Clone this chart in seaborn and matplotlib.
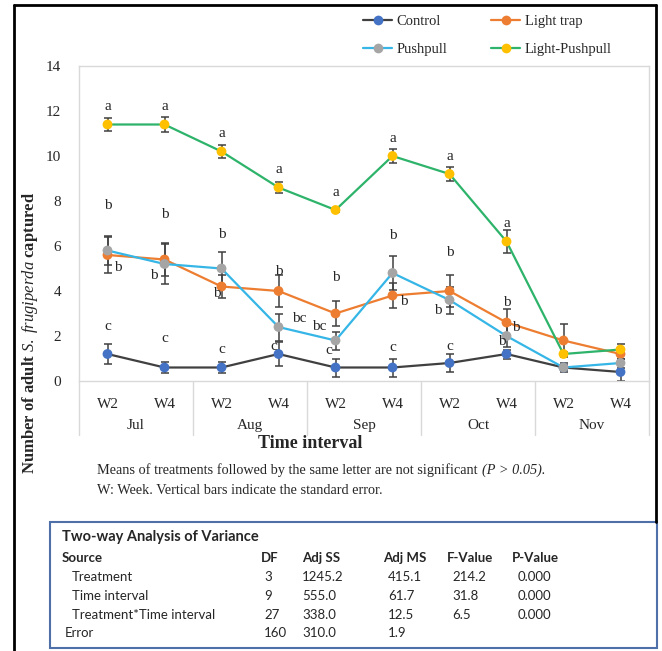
import numpy as np
import pandas as pd
import seaborn as sns
import matplotlib.pyplot as plt
import matplotlib.transforms as mtransforms
from matplotlib.lines import Line2D
from matplotlib.patches import Rectangle

# data
weeks = ['W2', 'W4'] * 5
months = ['Jul', 'Aug', 'Sep', 'Oct', 'Nov']
treatments = ['Control', 'Light trap', 'Pushpull', 'Light-Pushpull']

control = [1.2, 0.6, 0.6, 1.2, 0.6, 0.6, 0.8, 1.2, 0.6, 0.4]
control_se = [0.45, 0.25, 0.25, 0.55, 0.4, 0.4, 0.4, 0.2, 0.1, 0.4]
light_trap = [5.6, 5.4, 4.2, 4.0, 3.0, 3.8, 4.0, 2.6, 1.8, 1.2]
light_trap_se = [0.8, 0.75, 0.5, 0.7, 0.55, 0.55, 0.7, 0.6, 0.75, 0.2]
pushpull = [5.8, 5.2, 5.0, 2.4, 1.8, 4.8, 3.6, 2.0, 0.6, 0.8]
pushpull_se = [0.65, 0.9, 0.75, 0.6, 0.4, 0.75, 0.6, 0.5, 0.2, 0.2]
light_pushpull = [11.4, 11.4, 10.2, 8.6, 7.6, 10.0, 9.2, 6.2, 1.2, 1.4]
light_pushpull_se = [0.3, 0.35, 0.3, 0.25, 0.1, 0.3, 0.3, 0.5, 0.1, 0.25]

# significance letters (x index, y, letter)
sig_letters = [
    (0, 12.2, 'a'), (1, 12.2, 'a'), (2, 11.0, 'a'), (3, 9.4, 'a'),
    (4, 8.4, 'a'), (5, 10.8, 'a'), (6, 10.0, 'a'), (7, 7.0, 'a'),
    (0, 7.8, 'b'), (1, 7.4, 'b'), (2, 6.5, 'b'), (3, 4.85, 'b'),
    (4, 4.6, 'b'), (5, 6.45, 'b'), (6, 5.73, 'b'), (7, 3.48, 'b'),
    (0.18, 5.04, 'b'), (0.82, 4.7, 'b'), (1.92, 3.9, 'b'), (3.37, 2.8, 'bc'),
    (3.72, 2.4, 'bc'), (5.19, 3.54, 'b'), (5.8, 3.14, 'b'), (7.16, 2.37, 'b'),
    (6.91, 1.75, 'b'),
    (0, 2.4, 'c'), (1, 1.9, 'c'), (2, 1.4, 'c'), (2.91, 1.55, 'c'),
    (3.88, 1.35, 'c'), (5, 1.5, 'c'), (6, 1.55, 'c'),
]

anova_source = ['Treatment', 'Time interval', 'Treatment*Time interval', 'Error']
anova_df = ['3', '9', '27', '160']
anova_ss = ['1245.2', '555.0', '338.0', '310.0']
anova_ms = ['415.1', '61.7', '12.5', '1.9']
anova_f = ['214.2', '31.8', '6.5', '']
anova_p = ['0.000', '0.000', '0.000', '']

sns.set_style('white')
plt.rcParams['font.family'] = ['Liberation Serif', 'DejaVu Serif']
plt.rcParams['mathtext.fontset'] = 'custom'
plt.rcParams['mathtext.rm'] = 'Liberation Serif'
plt.rcParams['mathtext.it'] = 'Liberation Serif:italic'
plt.rcParams['mathtext.bf'] = 'Liberation Serif:bold'

df = pd.DataFrame({
    'idx': list(range(10)) * 4,
    'treatment': np.repeat(treatments, 10),
    'mean': control + light_trap + pushpull + light_pushpull,
    'se': control_se + light_trap_se + pushpull_se + light_pushpull_se,
})

line_colors = {'Control': '#404040', 'Light trap': '#ED7D31',
               'Pushpull': '#35B6E6', 'Light-Pushpull': '#2DB36A'}
marker_colors = {'Control': '#4472C4', 'Light trap': '#ED7D31',
                 'Pushpull': '#A5A5A5', 'Light-Pushpull': '#FFC000'}

W, H = 662, 651


def px(x):
    return x / W


def py(y):
    return 1 - y / H


fig = plt.figure(figsize=(W / 100, H / 100), dpi=100)
ax = fig.add_axes([px(79), py(381), (649 - 79) / W, (381 - 66) / H])

# error bars
for t in treatments:
    d = df[df['treatment'] == t]
    ax.errorbar(d['idx'], d['mean'], yerr=d['se'], fmt='none', ecolor='#404040',
                elinewidth=1.1, capsize=3, capthick=1.1, zorder=2)

sns.lineplot(data=df, x='idx', y='mean', hue='treatment', hue_order=treatments,
             palette=line_colors, lw=1.6, legend=False, ax=ax, zorder=3)
sns.scatterplot(data=df, x='idx', y='mean', hue='treatment', hue_order=treatments,
                palette=marker_colors, s=50, edgecolor='none', legend=False, ax=ax, zorder=4)

for x, y, s in sig_letters:
    ax.text(x, y, s, ha='center', va='center', fontsize=11, zorder=5)

ax.set_xlim(-0.5, 9.5)
ax.set_ylim(0, 14)
ax.set_xticks(range(10))
ax.set_xticklabels(weeks)
ax.set_yticks(range(0, 15, 2))
ax.tick_params(axis='x', length=0, pad=12, labelsize=11)
ax.tick_params(axis='y', length=0, pad=13, labelsize=11)
ax.set_xlabel('')
ax.set_ylabel('')
for sp in ax.spines.values():
    sp.set_color('#D9D9D9')
    sp.set_linewidth(1)

# month groups under the axis
trans = mtransforms.blended_transform_factory(ax.transData, ax.transAxes)
for b in np.arange(-0.5, 10, 2):
    ax.plot([b, b], [0, -0.171], color='#D9D9D9', lw=1, transform=trans, clip_on=False)
for i, m in enumerate(months):
    ax.text(2 * i + 0.5, -0.14, m, transform=trans, ha='center', va='center', fontsize=11)

fig.text(px(310), py(443), 'Time interval', ha='center', va='center',
         fontsize=13, fontweight='bold')
fig.text(px(30), py(333), r'Number of adult $\mathit{S.\ frugiperda}$ captured',
         rotation=90, ha='center', va='center', fontsize=12, fontweight='bold')

# legend
handles = []
for t in ['Control', 'Pushpull', 'Light trap', 'Light-Pushpull']:
    handles.append(Line2D([0], [0], color=line_colors[t], lw=1.6, marker='o',
                          markersize=7, markerfacecolor=marker_colors[t],
                          markeredgecolor='none', label=t))
fig.legend(handles=handles, ncol=2, loc='upper left', bbox_to_anchor=(px(350), py(2)),
           frameon=False, fontsize=10.5, handlelength=2.0, handletextpad=0.3,
           columnspacing=3.0, labelspacing=1.0)

# notes
t1 = fig.text(px(97), py(474),
              'Means of treatments followed by the same letter are not significant',
              va='baseline', fontsize=10.3)
ax.annotate('(P > 0.05).', xy=(1, 0), xycoords=t1, xytext=(3, 0),
            textcoords='offset points', va='bottom', fontsize=10.3, style='italic',
            annotation_clip=False)
fig.text(px(97), py(494), 'W: Week. Vertical bars indicate the standard error.',
         va='baseline', fontsize=10.3)

# outer frame
fig.add_artist(Line2D([px(14), px(656)], [py(5), py(5)], color='black', lw=2))
fig.add_artist(Line2D([px(14), px(14)], [py(5), py(651)], color='black', lw=2))
fig.add_artist(Line2D([px(656), px(656)], [py(5), py(522)], color='black', lw=2))

# ANOVA table
fig.add_artist(Rectangle((px(50), py(648)), (657 - 50) / W, (648 - 522) / H,
                         transform=fig.transFigure, fill=False, ec='#4f6fa8', lw=1.5))
tf = ['Lato', 'DejaVu Sans']
fig.text(px(62), py(537), 'Two-way Analysis of Variance', family=tf, fontsize=10.5,
         fontweight='bold', va='center')
col_x = [62, 261, 302, 383, 447, 512]
headers = ['Source', 'DF', 'Adj SS', 'Adj MS', 'F-Value', 'P-Value']
for x, h in zip(col_x, headers):
    fig.text(px(x), py(558), h, family=tf, fontsize=9.5, fontweight='bold', va='center')
val_x = [264, 302, 388, 452, 518]
row_y = [577, 596, 615, 633]
for i, src in enumerate(anova_source):
    sx = 65 if src == 'Error' else 72
    fig.text(px(sx), py(row_y[i]), src, family=tf, fontsize=9.5, va='center')
    for x, v in zip(val_x, [anova_df[i], anova_ss[i], anova_ms[i], anova_f[i], anova_p[i]]):
        fig.text(px(x), py(row_y[i]), v, family=tf, fontsize=9.5, va='center')

fig.savefig('out.png', dpi=100)
